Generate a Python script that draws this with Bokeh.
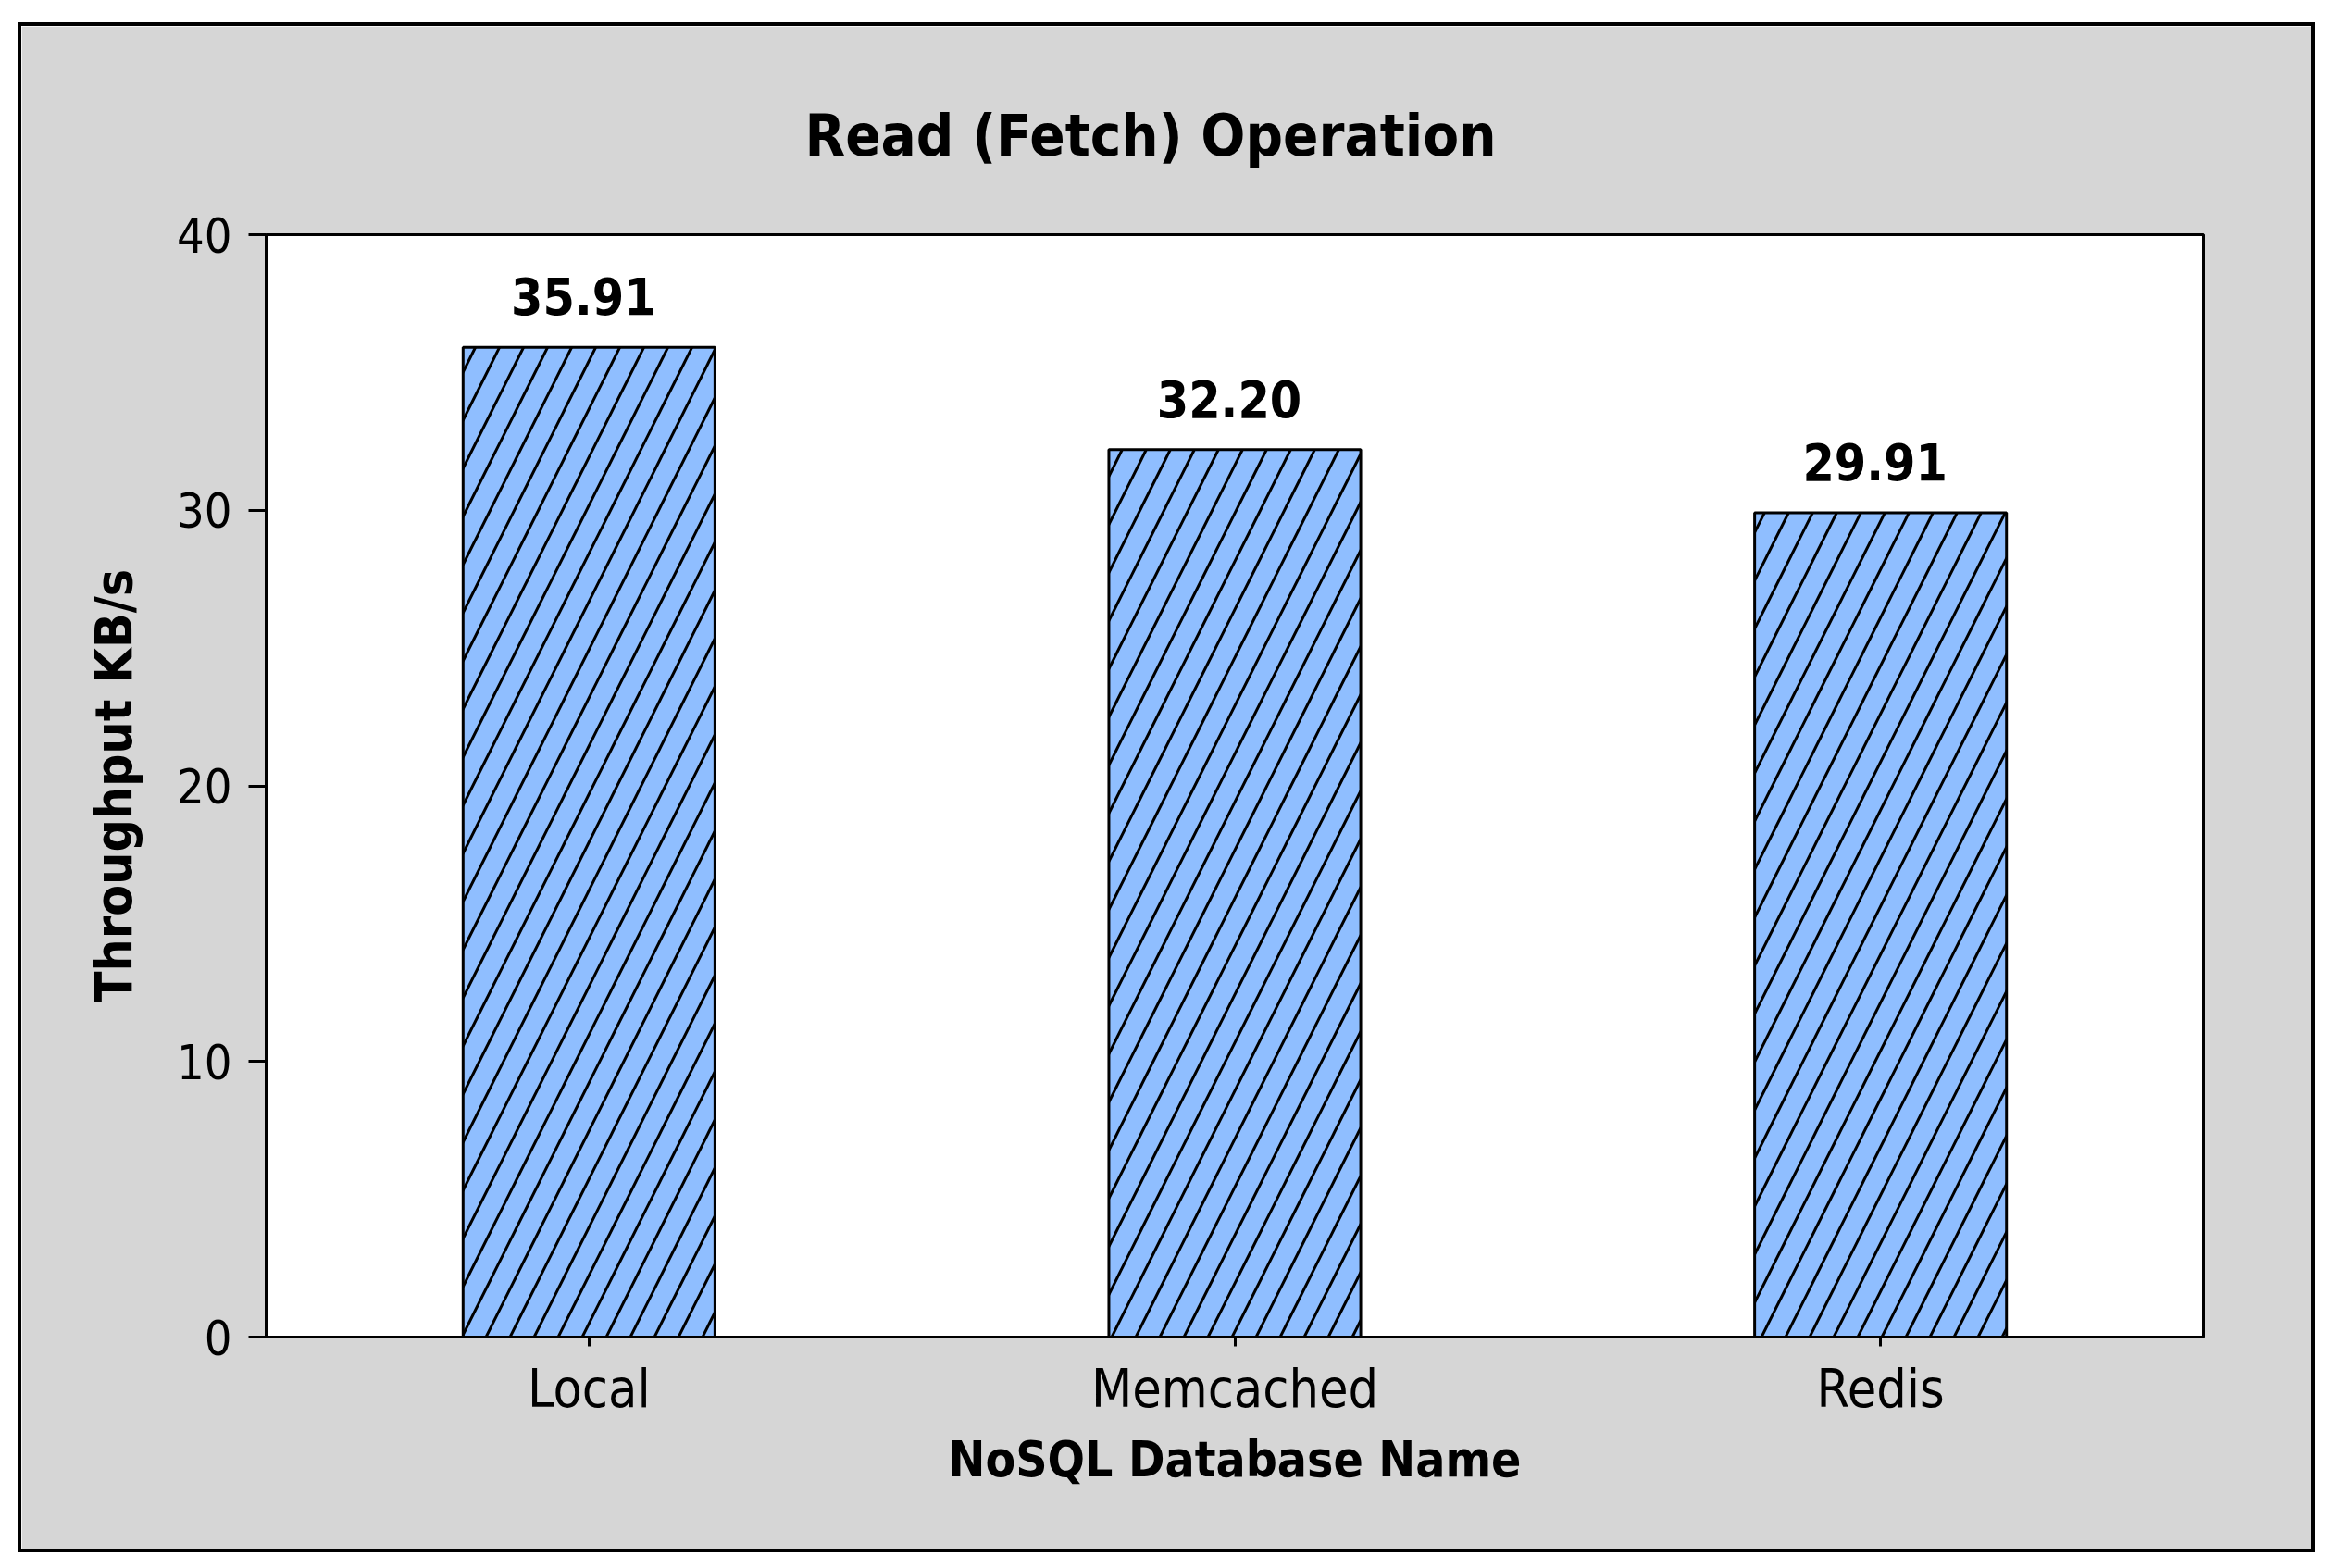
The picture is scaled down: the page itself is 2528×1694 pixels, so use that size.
from bokeh.plotting import figure
from bokeh.models import Range1d, FactorRange, ColumnDataSource
from bokeh.core.properties import value
from bokeh.embed import file_html
from bokeh.resources import INLINE

categories = ["Local", "Memcached", "Redis"]
throughput = [35.91, 32.20, 29.91]
bar_labels = ["35.91", "32.20", "29.91"]
y_ticks = [0, 10, 20, 30, 40]

FONT = "DejaVu Sans Condensed"

src = ColumnDataSource(dict(cat=categories, val=throughput, lbl=bar_labels))

p = figure(width=2482, height=1653,
           x_range=FactorRange(factors=categories), y_range=Range1d(0, 40),
           output_backend="svg", toolbar_location=None,
           min_border_left=264, min_border_right=125,
           min_border_top=225, min_border_bottom=237)
p.margin = (24, 0, 0, 19)
p.styles = {"border": "4px solid black"}

p.border_fill_color = "#d6d6d6"
p.background_fill_color = "white"
p.outline_line_color = "black"
p.outline_line_width = 3
p.xgrid.grid_line_color = None
p.ygrid.grid_line_color = None

p.vbar(x="cat", top="val", width=0.39, source=src,
       fill_color="#8FBEFF", line_color="black", line_width=3,
       hatch_pattern="/", hatch_color="black", hatch_scale=52, hatch_weight=3)

p.text(x="cat", y="val", text="lbl", source=src,
       text_align="center", text_baseline="alphabetic",
       x_offset=-6, y_offset=-55,
       text_font=value(FONT), text_font_style="bold",
       text_font_size="55px", text_color="black")

p.title.text = "Read (Fetch) Operation"
p.title.align = "left"
p.title.offset = 582
p.title.standoff = 141
p.title.text_font = FONT
p.title.text_font_style = "bold"
p.title.text_font_size = "63px"
p.title.text_color = "black"

for ax in (p.xaxis[0], p.yaxis[0]):
    ax.axis_line_width = 3
    ax.axis_line_color = "black"
    ax.major_tick_line_width = 3
    ax.major_tick_line_color = "black"
    ax.major_tick_in = 0
    ax.minor_tick_line_color = None
    ax.major_label_text_font = FONT
    ax.major_label_text_color = "black"
    ax.axis_label_text_font = FONT
    ax.axis_label_text_font_style = "bold"
    ax.axis_label_text_color = "black"

p.yaxis.ticker = y_ticks
p.yaxis.major_tick_out = 19
p.yaxis.major_label_standoff = 18
p.yaxis.major_label_text_font_size = "52px"
p.yaxis.axis_label = "Throughput KB/s"
p.yaxis.axis_label_text_font_size = "55px"
p.yaxis.axis_label_standoff = 33

p.xaxis.major_tick_out = 10
p.xaxis.major_label_standoff = 12
p.xaxis.major_label_text_font_size = "57px"
p.xaxis.axis_label = "NoSQL Database Name"
p.xaxis.axis_label_text_font_size = "53px"
p.xaxis.axis_label_standoff = 10

open("out.html", "w").write(file_html(p, INLINE))
